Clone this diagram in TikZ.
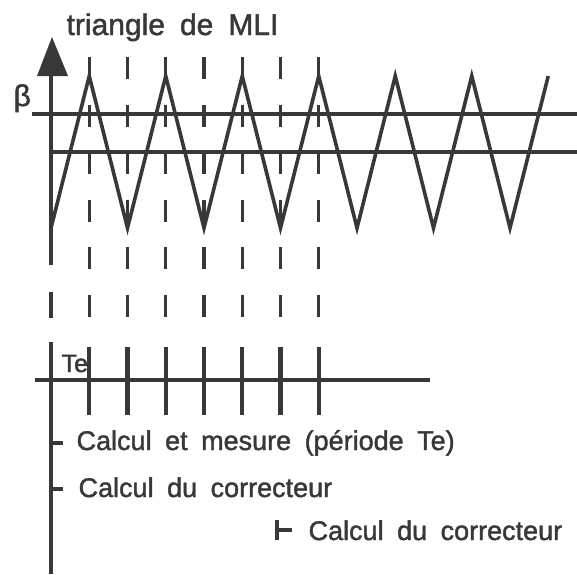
\documentclass[tikz,border=0pt]{standalone}
\usepackage{fontspec}
\setmainfont{Liberation Sans}[WordSpace=1.8,FakeBold=1.5]
\definecolor{inkgrey}{rgb}{0.22,0.22,0.22}

\begin{document}
\begin{tikzpicture}[x=1pt, y=-1pt, line width=3.2pt, inkgrey,
  wave/.style={line width=3.6pt},
  cut/.style={dash pattern=on 22pt off 25.5pt},
  tick/.style={line width=4.2pt},
  lbl/.style={anchor=base west, inner sep=0pt, font=\fontsize{27}{31}\selectfont}]
  \useasboundingbox (0,0) rectangle (577,574);
  % axe
  \fill (52,37) -- (37,76) -- (68,76) -- cycle;
  \draw (51,76) -- (51,265);
  \draw (51,292) -- (51,318);
  \draw (51,342) -- (51,574);
  \node[lbl, font=\fontsize{30}{34}\selectfont] (titre) at (65,35) {triangle de MLI};
  \node[lbl, font=\fontsize{30}{34}\selectfont] (beta) at (12,106) {β};
  % niveaux
  \draw (32,114) -- (577,114);
  \draw (51,152) -- (577,152);
  % triangle
  \draw[wave] (51,228) \foreach \k in {0,...,5} { -- ++(38.25,-152) -- ++(38.25,152) } -- ++(38.25,-152);
  \foreach \k in {1,...,7} \draw[cut] ({51+38.25*\k},57) -- ++(0,265);
  % echantillonnage
  \draw (35,380) -- (430,380);
  \foreach \k in {0,...,7} \draw[tick] ({51+38.25*\k},347) -- ++(0,68);
  \node[lbl, font=\fontsize{25}{29}\selectfont] (te) at (60,372) {Te};
  % taches
  \node[lbl] (mesure) at (75,450) {Calcul et mesure (période Te)};
  \draw[tick] (51,422) -- (51,462); \draw (51,443) -- (63,443);
  \node[lbl] (corr1) at (77,497) {Calcul du correcteur};
  \draw[tick] (51,477) -- (51,497); \draw (51,489) -- (63,489);
  \node[lbl] (corr2) at (307,540) {Calcul du correcteur};
  \draw (277,520) -- (277,540); \draw (277,530) -- (292,530);
\end{tikzpicture}
\end{document}
